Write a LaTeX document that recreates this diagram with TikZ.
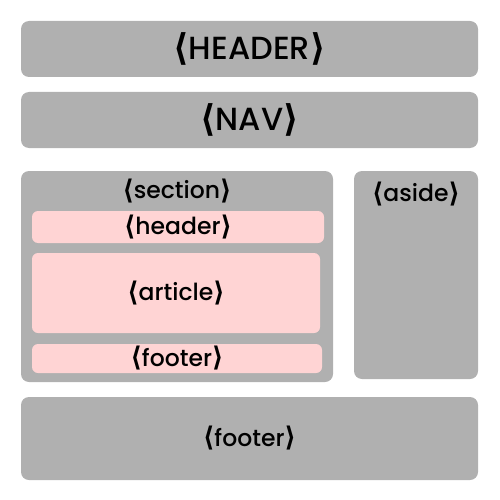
\documentclass[tikz,border=0pt]{standalone}
\usepackage{fontspec}
\setmainfont{Poppins}[UprightFont=* Medium]
\newfontfamily\brk{DejaVu Sans}
\newcommand{\tg}[1]{{\brk\bfseries\raisebox{-0.04em}{\scalebox{1.05}[1.15]{⟨}}}#1{\brk\bfseries\raisebox{-0.04em}{\scalebox{1.05}[1.15]{⟩}}}}
\definecolor{boxgray}{HTML}{B0B0B0}
\definecolor{boxpink}{HTML}{FFD4D4}
\begin{document}
\begin{tikzpicture}[x=1pt,y=-1pt,
  graybox/.style={fill=boxgray,draw=none,rounded corners=8pt,inner sep=0pt},
  pinkbox/.style={fill=boxpink,draw=none,rounded corners=6pt,inner sep=0pt},
  big/.style={font=\fontsize{32}{34}\selectfont},
  mid/.style={font=\fontsize{23.5}{25}\selectfont}]
\useasboundingbox (0,0) rectangle (500,500);
\node[graybox,minimum width=457pt,minimum height=56pt,big] (hdr) at (249.5,49) {\tg{HEADER}};
\node[graybox,minimum width=457pt,minimum height=56pt,big] (nav) at (249.5,120) {\tg{NAV}};
\node[graybox,minimum width=312pt,minimum height=211pt] (sec) at (177,276.5) {};
\node[mid] (seclbl) at (177,191) {\tg{section}};
\node[pinkbox,minimum width=292pt,minimum height=32pt,mid] (shdr) at (178,227) {\tg{header}};
\node[pinkbox,minimum width=288pt,minimum height=80pt,mid] (art) at (176,293) {\tg{article}};
\node[pinkbox,minimum width=290pt,minimum height=29pt,mid] (sftr) at (177,358.5) {\tg{footer}};
\node[graybox,minimum width=124pt,minimum height=208pt] (aside) at (416,275) {};
\node[mid] (asidelbl) at (416,194) {\tg{aside}};
\node[graybox,minimum width=457pt,minimum height=83pt,mid] (ftr) at (249.5,438.5) {\tg{footer}};
\end{tikzpicture}
\end{document}
